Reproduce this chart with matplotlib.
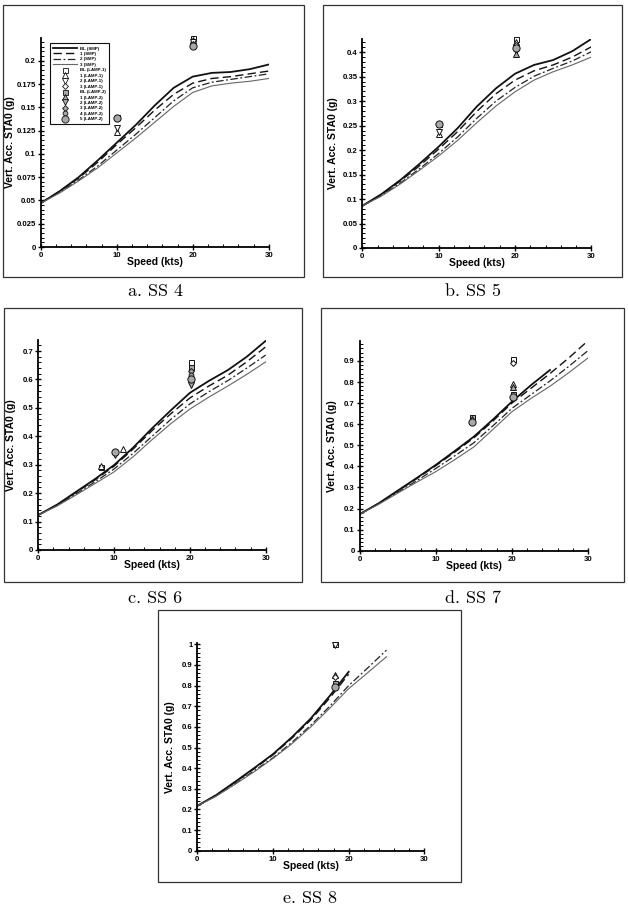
import numpy as np
import matplotlib
matplotlib.use("Agg")
import matplotlib.pyplot as plt
from matplotlib.patches import Rectangle
from matplotlib.ticker import MultipleLocator, FuncFormatter

plt.rcParams['font.family'] = ['Liberation Sans', 'DejaVu Sans']
plt.rcParams['font.weight'] = 'bold'

# ============== data ==============
speed = [0, 2.5, 5, 7.5, 10, 12.5, 15, 17.5, 20, 22.5, 25, 27.5, 30]

line_labels = ['BL (SMP)', '1 (SMP)', '2 (SMP)', '3 (SMP)']
lamp_labels = ['BL (LAMP-1)', '1 (LAMP-1)', '2 (LAMP-1)', '3 (LAMP-1)',
               'BL (LAMP-2)', '1 (LAMP-2)', '2 (LAMP-2)', '3 (LAMP-2)',
               '4 (LAMP-2)', '5 (LAMP-2)']

# SS 4
ss4_bl = [0.047, 0.060, 0.075, 0.093, 0.112, 0.131, 0.152, 0.171, 0.183, 0.187, 0.188, 0.191, 0.196]
ss4_1 = [0.047, 0.060, 0.074, 0.091, 0.110, 0.128, 0.147, 0.164, 0.176, 0.181, 0.183, 0.186, 0.189]
ss4_2 = [0.047, 0.059, 0.072, 0.087, 0.104, 0.121, 0.139, 0.157, 0.171, 0.177, 0.180, 0.183, 0.186]
ss4_3 = [0.047, 0.058, 0.071, 0.085, 0.101, 0.117, 0.134, 0.151, 0.166, 0.173, 0.176, 0.178, 0.181]
ss4_exp_x = [10.1, 10.1, 10.1, 10.1, 20.1, 20.1, 20.1, 20.1, 20.1]
ss4_exp_y = [0.140, 0.139, 0.128, 0.124, 0.225, 0.222, 0.220, 0.218, 0.216]
ss4_exp_s = ['BL (LAMP-1)', '5 (LAMP-2)', '2 (LAMP-1)', '1 (LAMP-1)',
             'BL (LAMP-1)', '1 (LAMP-1)', '2 (LAMP-1)', '3 (LAMP-1)', '5 (LAMP-2)']

# SS 5
ss5_bl = [0.086, 0.110, 0.139, 0.172, 0.207, 0.245, 0.289, 0.326, 0.356, 0.374, 0.384, 0.402, 0.427]
ss5_1 = [0.086, 0.109, 0.137, 0.168, 0.202, 0.238, 0.279, 0.315, 0.343, 0.362, 0.374, 0.390, 0.411]
ss5_2 = [0.086, 0.107, 0.133, 0.162, 0.193, 0.227, 0.265, 0.300, 0.328, 0.351, 0.367, 0.382, 0.401]
ss5_3 = [0.086, 0.106, 0.131, 0.159, 0.188, 0.220, 0.256, 0.290, 0.319, 0.343, 0.360, 0.374, 0.390]
ss5_exp_x = [10.1, 10.1, 10.1, 10.1, 20.1, 20.1, 20.1, 20.1, 20.1, 20.1]
ss5_exp_y = [0.254, 0.253, 0.238, 0.232, 0.426, 0.420, 0.414, 0.409, 0.402, 0.396]
ss5_exp_s = ['BL (LAMP-1)', '5 (LAMP-2)', '2 (LAMP-1)', '1 (LAMP-1)',
             'BL (LAMP-1)', '1 (LAMP-1)', '3 (LAMP-1)', '5 (LAMP-2)', '2 (LAMP-1)', '1 (LAMP-2)']

# SS 6
ss6_bl = [0.123, 0.160, 0.205, 0.250, 0.299, 0.360, 0.428, 0.492, 0.553, 0.595, 0.633, 0.680, 0.736]
ss6_1 = [0.123, 0.159, 0.203, 0.247, 0.295, 0.355, 0.420, 0.480, 0.535, 0.577, 0.615, 0.662, 0.715]
ss6_2 = [0.123, 0.157, 0.198, 0.240, 0.285, 0.340, 0.400, 0.460, 0.514, 0.557, 0.596, 0.640, 0.686]
ss6_3 = [0.123, 0.155, 0.194, 0.234, 0.275, 0.328, 0.388, 0.445, 0.496, 0.538, 0.577, 0.618, 0.662]
ss6_exp_x = [8.3, 8.3, 10.1, 10.1, 11.2, 20.1, 20.1, 20.1, 20.1, 20.1, 20.1]
ss6_exp_y = [0.293, 0.296, 0.346, 0.336, 0.356, 0.660, 0.645, 0.630, 0.615, 0.600, 0.582]
ss6_exp_s = ['BL (LAMP-1)', '1 (LAMP-1)', '5 (LAMP-2)', '2 (LAMP-1)', '1 (LAMP-1)',
             'BL (LAMP-1)', 'BL (LAMP-2)', '3 (LAMP-2)', '4 (LAMP-2)', '5 (LAMP-2)', '2 (LAMP-2)']

# SS 7 (BL curve stops at 25 kts)
ss7_bl = [0.173, 0.225, 0.285, 0.345, 0.407, 0.473, 0.541, 0.622, 0.707, 0.785, 0.857]
ss7_1 = [0.173, 0.224, 0.283, 0.342, 0.403, 0.468, 0.535, 0.615, 0.700, 0.770, 0.840, 0.915, 0.996]
ss7_2 = [0.173, 0.222, 0.277, 0.332, 0.390, 0.450, 0.512, 0.592, 0.675, 0.740, 0.805, 0.875, 0.949]
ss7_3 = [0.173, 0.220, 0.273, 0.325, 0.375, 0.432, 0.492, 0.575, 0.659, 0.722, 0.780, 0.845, 0.914]
ss7_exp_x = [14.7, 14.7, 14.7, 20.1, 20.1, 20.1, 20.1, 20.1, 20.1]
ss7_exp_y = [0.635, 0.627, 0.612, 0.908, 0.890, 0.790, 0.777, 0.745, 0.727]
ss7_exp_s = ['BL (LAMP-2)', '1 (LAMP-2)', '5 (LAMP-2)', 'BL (LAMP-1)', '3 (LAMP-1)',
             '1 (LAMP-1)', '1 (LAMP-2)', 'BL (LAMP-2)', '5 (LAMP-2)']

# SS 8 (BL and 1 stop at 20 kts, 2 and 3 at 25 kts)
ss8_bl = [0.217, 0.270, 0.334, 0.400, 0.468, 0.550, 0.641, 0.750, 0.867]
ss8_1 = [0.217, 0.269, 0.332, 0.397, 0.464, 0.545, 0.634, 0.740, 0.855]
ss8_2 = [0.217, 0.266, 0.325, 0.387, 0.450, 0.525, 0.608, 0.700, 0.800, 0.885, 0.972]
ss8_3 = [0.217, 0.264, 0.322, 0.382, 0.447, 0.518, 0.600, 0.690, 0.785, 0.862, 0.940]
ss8_exp_x = [18.2, 18.2, 18.2, 18.2, 18.2, 18.2]
ss8_exp_y = [1.003, 0.995, 0.850, 0.843, 0.812, 0.793]
ss8_exp_s = ['BL (LAMP-1)', '2 (LAMP-1)', '1 (LAMP-1)', '3 (LAMP-1)', 'BL (LAMP-2)', '5 (LAMP-2)']

# ============== styles ==============
line_styles = {
    'BL (SMP)': dict(color='#111111', lw=1.3, ls='-'),
    '1 (SMP)': dict(color='#111111', lw=1.0, ls=(0, (6, 3))),
    '2 (SMP)': dict(color='#222222', lw=0.9, ls=(0, (6, 2, 1.5, 2))),
    '3 (SMP)': dict(color='#666666', lw=0.8, ls='-'),
}
GRAY = '#a8a8a8'
marker_styles = {
    'BL (LAMP-1)': dict(marker='s', mfc='white', ms=3.6),
    '1 (LAMP-1)': dict(marker='^', mfc='white', ms=3.8),
    '2 (LAMP-1)': dict(marker='v', mfc='white', ms=3.8),
    '3 (LAMP-1)': dict(marker='D', mfc='white', ms=3.0),
    'BL (LAMP-2)': dict(marker='s', mfc=GRAY, ms=3.6),
    '1 (LAMP-2)': dict(marker='^', mfc=GRAY, ms=3.8),
    '2 (LAMP-2)': dict(marker='v', mfc=GRAY, ms=3.8),
    '3 (LAMP-2)': dict(marker='D', mfc=GRAY, ms=3.0),
    '4 (LAMP-2)': dict(marker='h', mfc=GRAY, ms=3.8),
    '5 (LAMP-2)': dict(marker='o', mfc=GRAY, ms=5.2),
}

W, H = 628, 923
fig = plt.figure(figsize=(W / 100, H / 100), dpi=100)


def px_axes(l, t, r, b):
    return fig.add_axes([l / W, 1 - b / H, (r - l) / W, (b - t) / H])


def frame(l, t, r, b):
    fig.add_artist(Rectangle((l / W, 1 - b / H), (r - l) / W, (b - t) / H,
                             transform=fig.transFigure, fill=False,
                             edgecolor='#333333', lw=0.9))


def caption(x, y, s):
    fig.text(x / W, 1 - y / H, s, ha='center', va='center', fontsize=13,
             family='cmr10', fontweight='normal')


def panel(ax, curves, exp_x, exp_y, exp_s, ymax, ymaj, ymin, ylab_x):
    for lab, ys in zip(line_labels, curves):
        ax.plot(speed[:len(ys)], ys, label=lab, **line_styles[lab])
    for lab in lamp_labels:
        xs = [x for x, s in zip(exp_x, exp_s) if s == lab]
        ys = [y for y, s in zip(exp_y, exp_s) if s == lab]
        if xs:
            ax.plot(xs, ys, ls='none', mec='#111111', mew=0.7, clip_on=False,
                    **marker_styles[lab])
    ax.set_xlim(0, 30)
    ax.set_ylim(0, ymax)
    ax.xaxis.set_major_locator(MultipleLocator(10))
    ax.xaxis.set_minor_locator(MultipleLocator(2))
    ax.yaxis.set_major_locator(MultipleLocator(ymaj))
    ax.yaxis.set_minor_locator(MultipleLocator(ymin))
    ax.yaxis.set_major_formatter(FuncFormatter(lambda v, p: f'{round(v, 4):g}'))
    ax.xaxis.set_major_formatter(FuncFormatter(lambda v, p: f'{v:g}'))
    for sp in ['top', 'right']:
        ax.spines[sp].set_visible(False)
    for sp in ['left', 'bottom']:
        ax.spines[sp].set_linewidth(1.3)
    ax.tick_params(which='major', direction='inout', length=5, width=1.0,
                   labelsize=5.6, pad=1)
    ax.tick_params(which='minor', direction='in', length=2.5, width=0.7)
    ax.set_xlabel('Speed (kts)', fontsize=7.5, fontweight='bold')
    ax.set_ylabel('Vert. Acc. STA0 (g)', fontsize=7.5, fontweight='bold')
    ax.xaxis.set_label_coords(0.5, -0.05)
    ax.yaxis.set_label_coords(ylab_x, 0.5)


# ============== panels ==============
frame(3, 5, 304, 277)
frame(323, 5, 622, 277)
frame(4, 308, 302, 582)
frame(321, 308, 624, 582)
frame(158, 610, 461, 882)

ax_a = px_axes(40.7, 38, 268.7, 247)
panel(ax_a, [ss4_bl, ss4_1, ss4_2, ss4_3], ss4_exp_x, ss4_exp_y, ss4_exp_s,
      0.2245, 0.025, 0.005, -0.112)

ax_b = px_axes(362.3, 39, 591.3, 248)
panel(ax_b, [ss5_bl, ss5_1, ss5_2, ss5_3], ss5_exp_x, ss5_exp_y, ss5_exp_s,
      0.427, 0.05, 0.01, -0.106)

ax_c = px_axes(38.3, 340, 265.7, 550)
panel(ax_c, [ss6_bl, ss6_1, ss6_2, ss6_3], ss6_exp_x, ss6_exp_y, ss6_exp_s,
      0.739, 0.1, 0.02, -0.1)

ax_d = px_axes(359.7, 340.7, 588, 550.7)
panel(ax_d, [ss7_bl, ss7_1, ss7_2, ss7_3], ss7_exp_x, ss7_exp_y, ss7_exp_s,
      0.996, 0.1, 0.02, -0.098)

ax_e = px_axes(197.3, 642.7, 424.3, 850.7)
panel(ax_e, [ss8_bl, ss8_1, ss8_2, ss8_3], ss8_exp_x, ss8_exp_y, ss8_exp_s,
      1.008, 0.1, 0.02, -0.098)

# legend only on the first panel, listing every series
handles = [plt.Line2D([], [], **line_styles[lab]) for lab in line_labels]
handles += [plt.Line2D([], [], ls='none', mec='#111111', mew=0.6, **marker_styles[lab])
            for lab in lamp_labels]
leg = ax_a.legend(handles, line_labels + lamp_labels, loc='upper left',
                  bbox_to_anchor=(0.03, 0.985), labelspacing=0.3,
                  handlelength=5.5, handletextpad=0.6, borderpad=0.7,
                  fancybox=False, edgecolor='#111111', framealpha=1,
                  prop=dict(size=3.2, weight='bold'))
leg.get_frame().set_linewidth(0.8)

caption(155, 291, 'a. SS 4')
caption(473, 291, 'b. SS 5')
caption(155, 598, 'c. SS 6')
caption(473, 598, 'd. SS 7')
caption(310, 898, 'e. SS 8')

fig.savefig('out.png', dpi=100)
